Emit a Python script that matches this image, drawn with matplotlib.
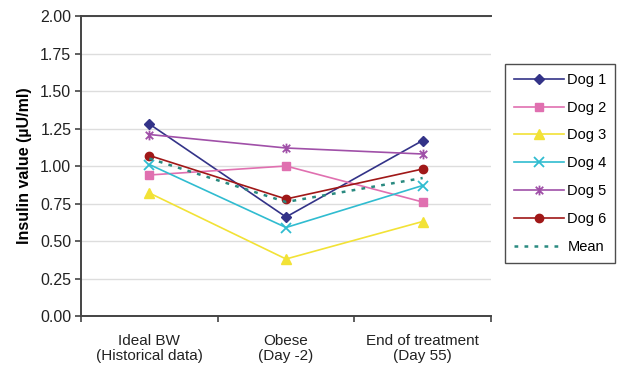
import numpy as np
import matplotlib.pyplot as plt
from matplotlib.path import Path

plt.rcParams['font.family'] = ['Liberation Sans', 'DejaVu Sans']

# data
categories = ['Ideal BW\n(Historical data)', 'Obese\n(Day -2)', 'End of treatment\n(Day 55)']
dog1 = [1.28, 0.66, 1.17]
dog2 = [0.94, 1.00, 0.76]
dog3 = [0.82, 0.38, 0.63]
dog4 = [1.01, 0.59, 0.87]
dog5 = [1.21, 1.12, 1.08]
dog6 = [1.07, 0.78, 0.98]
mean = [1.05, 0.76, 0.92]

# excel style "x with a vertical bar" marker
star = Path([(-1, -1), (1, 1), (-1, 1), (1, -1), (0, -1.3), (0, 1.3)],
            [Path.MOVETO, Path.LINETO, Path.MOVETO, Path.LINETO, Path.MOVETO, Path.LINETO])

fig = plt.figure(figsize=(6.19, 3.68), dpi=100)
ax = fig.add_axes([0.1309, 0.1413, 0.6623, 0.8152])

x = np.arange(len(categories))
ax.plot(x, dog1, color='#333388', marker='D', ms=5, lw=1.2, label='Dog 1')
ax.plot(x, dog2, color='#e070b0', marker='s', ms=5.5, lw=1.2, label='Dog 2')
ax.plot(x, dog3, color='#f2e236', marker='^', ms=6.5, lw=1.2, label='Dog 3')
ax.plot(x, dog4, color='#30bcd0', marker='x', ms=7, mew=1.3, lw=1.2, label='Dog 4')
ax.plot(x, dog5, color='#a050a8', marker=star, ms=7, mew=1.3, lw=1.2, label='Dog 5')
ax.plot(x, dog6, color='#a01818', marker='o', ms=6, lw=1.2, label='Dog 6')
ax.plot(x, mean, color='#2a8a80', ls=(0, (1.5, 2.5)), lw=1.8, label='Mean')

ax.set_xlim(-0.5, 2.5)
ax.set_ylim(0, 2)
ax.set_yticks(np.arange(0, 2.01, 0.25))
ax.set_yticklabels(['%.2f' % v for v in np.arange(0, 2.01, 0.25)], fontsize=11.5, color='#222222')
ax.yaxis.grid(True, color='#dddddd', lw=1)
ax.set_axisbelow(True)

ax.set_xticks(x)
ax.set_xticklabels(categories, fontsize=11, color='#222222', linespacing=1.1)
ax.tick_params(axis='x', which='major', length=0, pad=13)
ax.set_xticks([-0.5, 0.5, 1.5, 2.5], minor=True)
ax.tick_params(axis='x', which='minor', length=4, width=1.2, color='#444444', direction='out')
ax.tick_params(axis='y', length=4, width=1.2, color='#444444', pad=3)

ax.set_ylabel('Insulin value (µU/ml)', fontsize=11.5, fontweight='bold', labelpad=6)

for s in ['left', 'bottom', 'top']:
    ax.spines[s].set_color('#444444')
    ax.spines[s].set_linewidth(1.4)
ax.spines['right'].set_visible(False)

leg = ax.legend(loc='upper left', bbox_to_anchor=(1.035, 0.84), fontsize=10.5,
                handlelength=3.4, labelspacing=0.95, frameon=True, fancybox=False,
                borderpad=0.6, handletextpad=0.25, borderaxespad=0)
leg.get_frame().set_edgecolor('#222222')
leg.get_frame().set_linewidth(1.0)

fig.savefig('out.png', dpi=100)
